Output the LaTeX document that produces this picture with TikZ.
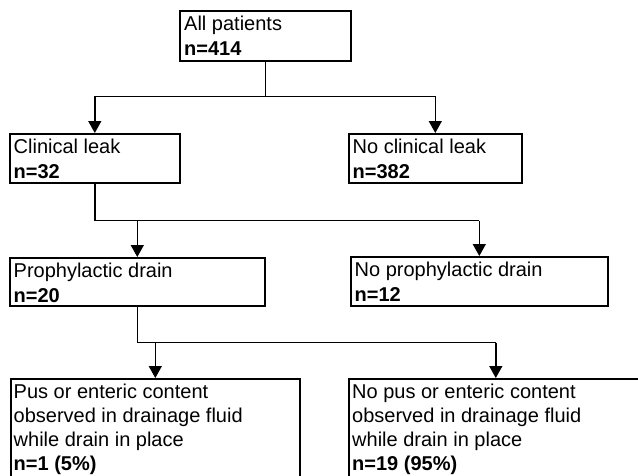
\documentclass[tikz,border=0pt]{standalone}
\usepackage{fontspec}
\setmainfont{Liberation Sans}
\usetikzlibrary{arrows.meta,calc}
\begin{document}
\begin{tikzpicture}[x=1pt,y=-1pt,
  box/.style={draw, line width=1.6pt, inner sep=0pt, anchor=north west},
  lbl/.style={anchor=north west, inner sep=0pt, align=left, font=\fontsize{20}{25}\selectfont},
  lblsmall/.style={lbl, font=\fontsize{20}{24}\selectfont},
  conn/.style={line width=1.5pt},
  arr/.style={line width=1.5pt, -{Triangle[width=13pt,length=12pt]}}]
\useasboundingbox (0,0) rectangle (638,475);
\fill[white] (0,0) rectangle (638,475);
\clip (0,0) rectangle (638,475);

% boxes
\node[box, minimum width=171pt, minimum height=50pt] (A) at (179,10) {};
\node[box, minimum width=170pt, minimum height=49pt] (B) at (9,133) {};
\node[box, minimum width=173pt, minimum height=49pt] (C) at (348,133) {};
\node[box, minimum width=255pt, minimum height=48pt] (D) at (9,257) {};
\node[box, minimum width=257pt, minimum height=49pt] (E) at (350,256) {};
\node[box, minimum width=289pt, minimum height=130pt] (F) at (10,378) {};
\node[box, minimum width=294pt, minimum height=130pt] (G) at (348,378) {};

% texts
\node[lbl] (At) at ($(A.north west)+(5,5.5)$) {All patients\\\textbf{n=414}};
\node[lbl] (Bt) at ($(B.north west)+(4.5,5.5)$) {Clinical leak\\\textbf{n=32}};
\node[lbl] (Ct) at ($(C.north west)+(4.5,5.5)$) {No clinical leak\\\textbf{n=382}};
\node[lbl] (Dt) at ($(D.north west)+(4.5,5.8)$) {Prophylactic drain\\\textbf{n=20}};
\node[lbl] (Et) at ($(E.north west)+(4.5,5.8)$) {No prophylactic drain\\\textbf{n=12}};
\node[lblsmall] (Ft) at ($(F.north west)+(3.5,5.7)$) {Pus or enteric content\\observed in drainage fluid\\while drain in place\\\textbf{n=1 (5\%)}};
\node[lblsmall] (Gt) at ($(G.north west)+(4,5.7)$) {No pus or enteric content\\observed in drainage fluid\\while drain in place\\\textbf{n=19 (95\%)}};

% connectors
\coordinate (aj) at ($(A.south)+(0,35)$);
\draw[conn] (A.south) -- (aj);
\draw[arr] (aj) -| (B.north);
\draw[arr] (aj) -| (C.north);

\coordinate (bj) at ($(B.south)+(0,37)$);
\draw[conn] (B.south) |- (bj -| E.north);
\draw[arr] (bj -| D.north) -- (D.north);
\draw[arr] (bj -| E.north) -- (E.north);

\coordinate (dj) at ($(D.south)+(0,36)$);
\draw[conn] (D.south) |- (dj -| G.north);
\draw[arr] (dj -| F.north) -- (F.north);
\draw[arr] (dj -| G.north) -- (G.north);
\end{tikzpicture}
\end{document}
